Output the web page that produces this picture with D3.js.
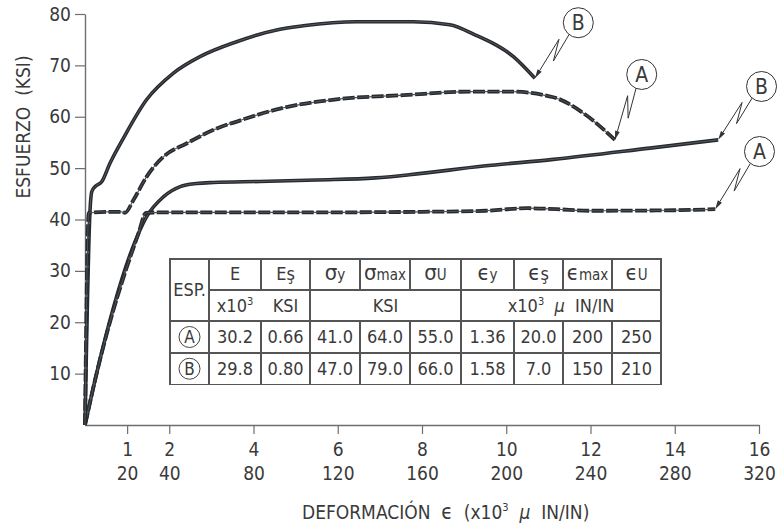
<!DOCTYPE html>
<html>
<head>
<meta charset="utf-8">
<script src="https://cdn.jsdelivr.net/npm/d3@7"></script>
<style>
  body { margin: 0; background: #fff; }
  svg text { font-family: "Liberation Sans Narrow", "DejaVu Sans Condensed", Roboto, sans-serif; fill: #3a3a3a; }
</style>
</head>
<body>
<svg id="chart" width="778" height="526"></svg>
<script>
// axis ticks (two scales share the same positions)
var strainTop = [1, 2, 4, 6, 8, 10, 12, 14, 16];
var strainBottom = [20, 40, 80, 120, 160, 200, 240, 280, 320];
var stressTicks = [10, 20, 30, 40, 50, 60, 70, 80];

// curves: [strain, stress]
var upperA = [[0,0],[0.09,41.3],[0.5,41.5],[0.87,41.5],[0.95,41.3],[1.15,43.8],[1.46,48.3],[1.86,52.2],[2.41,54.8],[3.04,57.4],[3.84,59.7],[4.63,61.6],[5.97,63.4],[7.56,64.2],[9.14,64.9],[10.09,64.9],[11.12,63.8],[11.83,60.7],[12.58,55.5]];
var upperB = [[0,0],[0.12,41.9],[0.16,45.4],[0.24,46.4],[0.40,47.4],[0.59,50.9],[0.91,55.8],[1.46,63.3],[2.10,68.5],[2.73,71.7],[3.60,74.6],[4.55,76.9],[5.18,77.7],[6.45,78.5],[7.79,78.5],[8.66,77.9],[9.22,76.1],[10.17,71.7],[10.68,67.5]];
var lowerB = [[0,0],[0.24,8.8],[1.27,37.3],[1.46,40.5],[1.86,44.4],[2.26,46.4],[2.65,47.0],[3.05,47.2],[4.15,47.4],[5.5,47.7],[6.9,48.1],[7.7,48.7],[9.46,50.4],[11.12,51.7],[13.41,53.9],[15.03,55.5]];
var lowerA = [[0,0],[0.24,8.8],[1.27,37.3],[1.45,41.3],[2,41.4],[4,41.4],[6,41.4],[8,41.5],[9.5,41.7],[10.5,42.2],[11.2,42.0],[12,41.7],[14,41.8],[14.96,42.0]];

// table
var tableHead = [["E",""],["E","ş"],["σ","y"],["σ","max"],["σ","U"],["ϵ","y"],["ϵ","ş"],["ϵ","max"],["ϵ","U"]];
var specimens = ["A", "B"];
var rowA = ["30.2","0.66","41.0","64.0","55.0","1.36","20.0","200","250"];
var rowB = ["29.8","0.80","47.0","79.0","66.0","1.58","7.0","150","210"];

var ink = "#25292d", axisCol = "#6e6e6e";
var svg = d3.select("#chart");

var x = d3.scaleLinear().domain([0, 16]).range([85, 759]);
var y = d3.scaleLinear().domain([0, 80]).range([425, 14]);

// x axis
var gx = svg.append("g").attr("transform", "translate(0," + y(0) + ")")
    .call(d3.axisBottom(x).tickValues(strainTop).tickSize(9).tickSizeOuter(0).tickFormat(d3.format("d")));
gx.select(".domain").attr("stroke", axisCol).attr("stroke-width", 1.4);
gx.selectAll(".tick line").attr("stroke", axisCol).attr("stroke-width", 1.2);
gx.selectAll(".tick text").attr("y", 31).attr("dy", 0).style("font-size", "19px");
gx.selectAll(".tick").append("text")
    .attr("y", 55).attr("fill", "#3a3a3a").attr("text-anchor", "middle")
    .style("font-size", "19px")
    .text(function(d, i) { return strainBottom[i]; });

// y axis
var gy = svg.append("g").attr("transform", "translate(" + x(0) + ",0)")
    .call(d3.axisLeft(y).tickValues(stressTicks).tickSize(10).tickSizeOuter(0).tickPadding(4));
gy.select(".domain").attr("stroke", axisCol).attr("stroke-width", 1.4);
gy.selectAll(".tick line").attr("stroke", axisCol).attr("stroke-width", 1.2);
gy.selectAll(".tick text").style("font-size", "19px");
svg.selectAll(".tick text").attr("fill", "#3a3a3a").style("font-family", null);

// axis titles
svg.append("text")
    .attr("transform", "translate(30,127) rotate(-90)")
    .attr("text-anchor", "middle").style("font-size", "19px")
    .text("ESFUERZO  (KSI)").attr("xml:space", "preserve");

var xt = svg.append("text").attr("x", 302).attr("y", 519).style("font-size", "19px").attr("xml:space", "preserve");
xt.append("tspan").text("DEFORMACIÓN  ");
xt.append("tspan").style("font-size", "21px").text("ϵ");
xt.append("tspan").text("  (x10");
xt.append("tspan").attr("dy", -8).style("font-size", "11px").text("3");
xt.append("tspan").attr("dy", 8).text("  ");
xt.append("tspan").style("font-style", "italic").text("μ");
xt.append("tspan").text("  IN/IN)");

// curves
var line = d3.line().x(function(d) { return x(d[0]); }).y(function(d) { return y(d[1]); })
    .curve(d3.curveMonotoneX);

function solid(data) {
  svg.append("path").datum(data).attr("d", line).attr("fill", "none")
     .attr("stroke", ink).attr("stroke-width", 3.6).attr("stroke-linejoin", "round");
  svg.append("path").datum(data).attr("d", line).attr("fill", "none")
     .attr("stroke", "#6b7075").attr("stroke-width", 0.7);
}
function dashed(data) {
  svg.append("path").datum(data).attr("d", line).attr("fill", "none")
     .attr("stroke", "#55595d").attr("stroke-width", 1.2);
  svg.append("path").datum(data).attr("d", line).attr("fill", "none")
     .attr("stroke", ink).attr("stroke-width", 3.8).attr("stroke-dasharray", "12,2.5");
  svg.append("path").datum(data).attr("d", line).attr("fill", "none")
     .attr("stroke", "#6b7075").attr("stroke-width", 0.6).attr("stroke-dasharray", "12,2.5");
}
solid(lowerB);
dashed(lowerA);
solid(upperB);
dashed(upperA);

// callouts: label, curve end, circle offset from the tip
var callouts = [
  { label: "B", end: upperB[upperB.length - 1], off: [43.4, -55.5] },
  { label: "A", end: upperA[upperA.length - 1], off: [26.8, -65.4] },
  { label: "B", end: lowerB[lowerB.length - 1], off: [43.4, -53.4] },
  { label: "A", end: lowerA[lowerA.length - 1], off: [44.3, -57.7] }
];
var r = 15;
callouts.forEach(function(c) {
  var tx = x(c.end[0]), ty = y(c.end[1]);
  var cx = tx + c.off[0], cy = ty + c.off[1];
  var ux = tx - cx, uy = ty - cy, ul = Math.hypot(ux, uy);
  var ex = cx + r * ux / ul, ey = cy + r * uy / ul;
  var vx = tx - ex, vy = ty - ey, vl = Math.hypot(vx, vy);
  var nx = vy / vl, ny = -vx / vl;
  var p1 = [ex + 0.55 * vx + 4 * nx, ey + 0.55 * vy + 4 * ny];
  var p2 = [ex + 0.18 * vx - 5 * nx, ey + 0.18 * vy - 5 * ny];
  // arrow back end
  var ax = tx - p2[0], ay = ty - p2[1], al = Math.hypot(ax, ay);
  ax /= al; ay /= al;
  var bx = tx - 9 * ax, by = ty - 9 * ay;
  svg.append("path")
     .attr("d", "M" + ex + "," + ey + "L" + p1 + "L" + p2 + "L" + bx + "," + by)
     .attr("fill", "none").attr("stroke", "#333").attr("stroke-width", 1);
  svg.append("path")
     .attr("d", "M" + tx + "," + ty + "L" + (bx + 2.4 * ay) + "," + (by - 2.4 * ax) +
                "L" + (bx - 2.4 * ay) + "," + (by + 2.4 * ax) + "Z")
     .attr("fill", "#333");
  svg.append("circle").attr("cx", cx).attr("cy", cy).attr("r", r)
     .attr("fill", "#fff").attr("stroke", "#333").attr("stroke-width", 1);
  svg.append("text").attr("x", cx).attr("y", cy).attr("dy", "0.36em")
     .attr("text-anchor", "middle").style("font-size", "21px").text(c.label);
});

// table
var colX = [170, 209, 261, 310, 360, 410, 461, 514, 563, 612, 661];
var rowY = [259, 290, 321, 353, 384.5];
var tb = svg.append("g");
var lineAttr = function(s) { s.attr("stroke", "#555").attr("stroke-width", 1.1).attr("shape-rendering", "crispEdges"); };
tb.append("rect").attr("x", colX[0]).attr("y", rowY[0])
  .attr("width", colX[10] - colX[0]).attr("height", rowY[4] - rowY[0])
  .attr("fill", "#fff").call(lineAttr);
[1, 2, 3].forEach(function(i) {
  tb.append("line").attr("x1", i === 1 ? colX[1] : colX[0]).attr("x2", colX[10])
    .attr("y1", rowY[i]).attr("y2", rowY[i]).call(lineAttr);
});
// vertical rules; inner ones of merged unit cells skip the second header row
var mergedCols = [2, 4, 5, 7, 8, 9];
colX.slice(1, 10).forEach(function(cx, j) {
  var i = j + 1;
  if (mergedCols.indexOf(i) < 0) {
    tb.append("line").attr("x1", cx).attr("x2", cx)
      .attr("y1", rowY[0]).attr("y2", rowY[4]).call(lineAttr);
  } else {
    tb.append("line").attr("x1", cx).attr("x2", cx).attr("y1", rowY[0]).attr("y2", rowY[1]).call(lineAttr);
    tb.append("line").attr("x1", cx).attr("x2", cx).attr("y1", rowY[2]).attr("y2", rowY[4]).call(lineAttr);
  }
});

function mid(a, b) { return (a + b) / 2; }
tb.append("text").attr("x", mid(colX[0], colX[1])).attr("y", rowY[1]).attr("dy", "0.36em")
  .attr("text-anchor", "middle").style("font-size", "18px").text("ESP.");

tableHead.forEach(function(h, i) {
  var t = tb.append("text").attr("x", mid(colX[i + 1], colX[i + 2])).attr("y", mid(rowY[0], rowY[1]))
    .attr("dy", "0.36em").attr("text-anchor", "middle");
  var big = h[0] === "E" ? 18 : 22;
  t.append("tspan").style("font-size", big + "px").text(h[0]);
  if (h[1]) t.append("tspan").style("font-size", h[1] === "ş" ? "18px" : "15px").text(h[1]);
});

var ry = mid(rowY[1], rowY[2]);
var e3 = tb.append("text").attr("x", mid(colX[1], colX[2])).attr("y", ry).attr("dy", "0.36em")
  .attr("text-anchor", "middle").style("font-size", "18px");
e3.append("tspan").text("x10");
e3.append("tspan").attr("dy", -7).style("font-size", "11px").text("3");
tb.append("text").attr("x", mid(colX[2], colX[3])).attr("y", ry).attr("dy", "0.36em")
  .attr("text-anchor", "middle").style("font-size", "18px").text("KSI");
tb.append("text").attr("x", mid(colX[3], colX[6])).attr("y", ry).attr("dy", "0.36em")
  .attr("text-anchor", "middle").style("font-size", "18px").text("KSI");
var u = tb.append("text").attr("x", mid(colX[6], colX[10])).attr("y", ry).attr("dy", "0.36em")
  .attr("text-anchor", "middle").style("font-size", "18px").attr("xml:space", "preserve");
u.append("tspan").text("x10");
u.append("tspan").attr("dy", -7).style("font-size", "11px").text("3");
u.append("tspan").attr("dy", 7).text("  ");
u.append("tspan").style("font-style", "italic").text("μ");
u.append("tspan").text("  IN/IN");

[rowA, rowB].forEach(function(row, k) {
  var yy = mid(rowY[k + 2], rowY[k + 3]);
  var cx = mid(colX[0], colX[1]);
  tb.append("circle").attr("cx", cx).attr("cy", yy).attr("r", 10.5)
    .attr("fill", "none").attr("stroke", "#444").attr("stroke-width", 1);
  tb.append("text").attr("x", cx).attr("y", yy).attr("dy", "0.36em")
    .attr("text-anchor", "middle").style("font-size", "17px").text(specimens[k]);
  row.forEach(function(v, i) {
    tb.append("text").attr("x", mid(colX[i + 1], colX[i + 2])).attr("y", yy).attr("dy", "0.36em")
      .attr("text-anchor", "middle").style("font-size", "18px").text(v);
  });
});
</script>
</body>
</html>
